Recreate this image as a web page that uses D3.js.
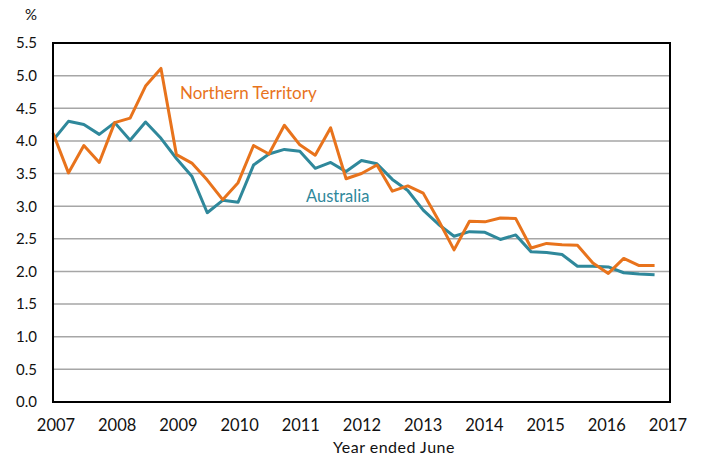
<!DOCTYPE html>
<html>
<head>
<meta charset="utf-8">
<script src="https://cdn.jsdelivr.net/npm/d3@7"></script>
<style>
  body { margin: 0; background: #fff; }
  text { font-family: Lato, "Open Sans", sans-serif; }
</style>
</head>
<body>
<div id="chart"></div>
<script>
// quarterly, year ended June
const startYear = 2007;
const northernTerritory = [4.12,3.51,3.93,3.67,4.28,4.35,4.84,5.11,3.79,3.66,
  3.40,3.10,3.36,3.93,3.80,4.24,3.94,3.78,4.20,3.42,
  3.50,3.63,3.23,3.31,3.20,2.78,2.33,2.77,2.76,2.82,
  2.81,2.36,2.43,2.41,2.40,2.13,1.97,2.20,2.09,2.09];
const australia = [4.01,4.30,4.25,4.10,4.28,4.01,4.29,4.04,3.73,3.46,
  2.90,3.09,3.06,3.63,3.80,3.87,3.84,3.58,3.67,3.53,
  3.70,3.65,3.41,3.24,2.94,2.72,2.54,2.61,2.60,2.49,
  2.56,2.30,2.29,2.26,2.08,2.08,2.07,1.98,1.96,1.95];
const yearTicks = [2007,2008,2009,2010,2011,2012,2013,2014,2015,2016,2017];
const yTicks = [0,0.5,1,1.5,2,2.5,3,3.5,4,4.5,5,5.5];

const width = 701, height = 458;
const plotL = 53, plotR = 670, plotT = 43, plotB = 402;

const svg = d3.select("#chart").append("svg")
    .attr("width", width)
    .attr("height", height);

const x = d3.scaleLinear().domain([2007, 2017]).range([plotL, plotR]);
const xLab = d3.scaleLinear().domain([2007, 2017]).range([plotL + 3, plotR - 2]);
const y = d3.scaleLinear().domain([0, 5.5]).range([plotB, plotT]);

// grid
svg.append("g").selectAll("line")
    .data(yTicks.filter(d => d > 0 && d < 5.5))
    .join("line")
    .attr("x1", plotL).attr("x2", plotR)
    .attr("y1", d => y(d)).attr("y2", d => y(d))
    .attr("stroke", "#a6a6a6")
    .attr("stroke-width", 1.5);

// y labels
svg.append("g").selectAll("text")
    .data(yTicks)
    .join("text")
    .attr("x", 37)
    .attr("y", d => y(d))
    .attr("dy", "0.36em")
    .attr("text-anchor", "end")
    .attr("font-size", 15)
    .attr("fill", "#111")
    .text(d => d.toFixed(1));

svg.append("text")
    .attr("x", 37).attr("y", 20)
    .attr("text-anchor", "end")
    .attr("font-size", 15)
    .attr("fill", "#111")
    .text("%");

// x labels
svg.append("g").selectAll("text")
    .data(yearTicks)
    .join("text")
    .attr("x", d => xLab(d))
    .attr("y", 431)
    .attr("text-anchor", "middle")
    .attr("font-size", 16.5)
    .attr("fill", "#111")
    .text(d => d);

svg.append("text")
    .attr("x", 394).attr("y", 453)
    .attr("text-anchor", "middle")
    .attr("font-size", 16)
    .attr("letter-spacing", 0.5)
    .attr("fill", "#111")
    .text("Year ended June");

const line = d3.line()
    .x((d, i) => x(startYear + i * 0.25))
    .y(d => y(d));

svg.append("path")
    .datum(australia)
    .attr("d", line)
    .attr("fill", "none")
    .attr("stroke", "#2f889b")
    .attr("stroke-width", 3)
    .attr("stroke-linejoin", "round");

svg.append("path")
    .datum(northernTerritory)
    .attr("d", line)
    .attr("fill", "none")
    .attr("stroke", "#e8731c")
    .attr("stroke-width", 3)
    .attr("stroke-linejoin", "round");

// frame
svg.append("rect")
    .attr("x", plotL).attr("y", plotT)
    .attr("width", plotR - plotL).attr("height", plotB - plotT)
    .attr("fill", "none")
    .attr("stroke", "#000")
    .attr("stroke-width", 2);

// series labels
svg.append("text")
    .attr("x", 180).attr("y", 99)
    .attr("font-size", 17)
    .attr("fill", "#e8731c")
    .text("Northern Territory");

svg.append("text")
    .attr("x", 306).attr("y", 202)
    .attr("font-size", 16.5)
    .attr("fill", "#2f889b")
    .text("Australia");
</script>
</body>
</html>
